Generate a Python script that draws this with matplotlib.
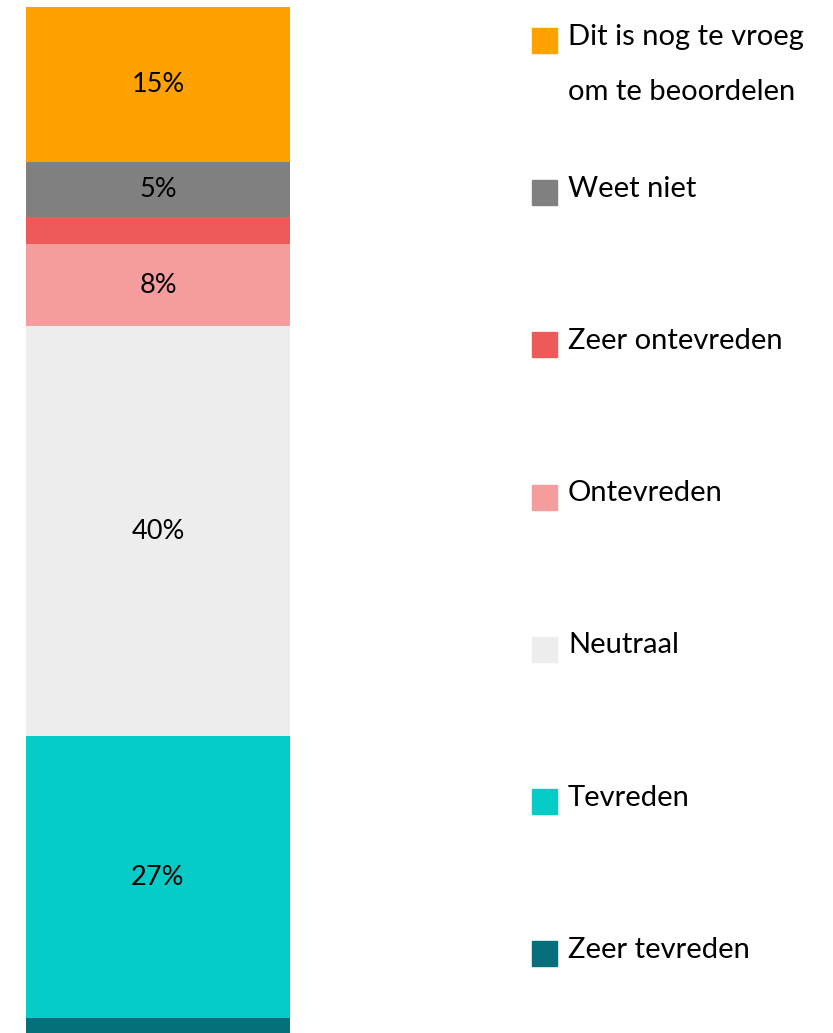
import matplotlib.pyplot as plt
from matplotlib.patches import Rectangle

plt.rcParams['font.family'] = ['Lato', 'DejaVu Sans']

# stacked from bottom to top
categories = ['Zeer tevreden', 'Tevreden', 'Neutraal', 'Ontevreden',
              'Zeer ontevreden', 'Weet niet', 'Dit is nog te vroeg\nom te beoordelen']
values = [1.5, 27.4, 40.0, 8.0, 2.6, 5.4, 15.1]
colors = ['#046E7A', '#06CCC8', '#EDEDED', '#F49D9C', '#EE5A5A', '#808080', '#FFA100']

W, H = 833, 1033
fig = plt.figure(figsize=(W / 100, H / 100), dpi=100)
ax = fig.add_axes([26 / W, 0, (290 - 26) / W, (H - 7) / H])

bottom = 0
for v, c in zip(values, colors):
    ax.bar(0, v, bottom=bottom, width=1, color=c)
    if v >= 5:
        ax.text(0, bottom + v / 2, f'{round(v)}%', ha='center', va='center',
                fontsize=19.5, color='black')
    bottom += v

ax.set_xlim(-0.5, 0.5)
ax.set_ylim(0, sum(values))
ax.axis('off')

# legend, top to bottom
for i, (lab, c) in enumerate(zip(categories[::-1], colors[::-1])):
    yc = 40.5 + 152.2 * i
    fig.add_artist(Rectangle((532 / W, 1 - (yc + 12.5) / H), 25 / W, 25 / H,
                             color=c, transform=fig.transFigure))
    lines = lab.split('\n')
    for k, line in enumerate(lines):
        fig.text(568 / W, 1 - (yc + 4 + 56 * k) / H, line, ha='left',
                 va='baseline', fontsize=21, color='black')

fig.savefig('out.png', dpi=100)
